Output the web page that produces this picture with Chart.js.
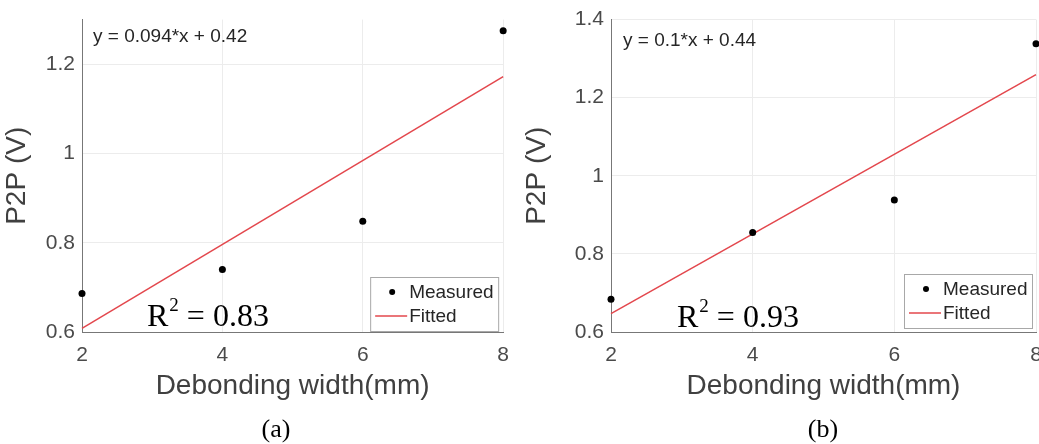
<!DOCTYPE html>
<html>
<head>
<meta charset="utf-8">
<script src="https://cdn.jsdelivr.net/npm/chart.js@4"></script>
<style>
  html, body { margin: 0; padding: 0; background: #fff; overflow: hidden; }
  body { width: 1039px; height: 444px; position: relative; }
  .panel { position: absolute; top: 0; height: 444px; }
  #panelA { left: 0; width: 520px; }
  #panelB { left: 520px; width: 540px; }
  .caption { position: absolute; top: 414px; font-family: "Liberation Serif", "Times New Roman", serif;
             font-size: 26px; line-height: 30px; color: #000; transform: translateX(-50%); }
</style>
</head>
<body>
<div class="panel" id="panelA"><canvas id="chartA" width="520" height="444"></canvas></div>
<div class="panel" id="panelB"><canvas id="chartB" width="540" height="444"></canvas></div>
<div class="caption" style="left:276px">(a)</div>
<div class="caption" style="left:823px">(b)</div>
<script>
// debonding widths (mm) and peak-to-peak voltages
const widths = [2, 4, 6, 8];
const measuredA = [0.686, 0.74, 0.848, 1.275];
const measuredB = [0.684, 0.855, 0.938, 1.338];

// linear fit, end points
const fitX = [2, 8];
const fittedA = [0.608, 1.172];
const fittedB = [0.647, 1.259];

const xTicks = [2, 4, 6, 8];
const yTicksA = [0.6, 0.8, 1, 1.2];
const yTicksB = [0.6, 0.8, 1, 1.2, 1.4];

const equationA = 'y = 0.094*x + 0.42';
const equationB = 'y = 0.1*x + 0.44';
const r2A = '0.83';
const r2B = '0.93';

const SANS = '"Liberation Sans", Arial, sans-serif';
const SERIF = '"Liberation Serif", "Times New Roman", serif';

// equation, R^2 and the boxed legend inside the axes
const annotate = {
  id: 'annotate',
  afterDraw(chart, args, o) {
    const { ctx, chartArea: a } = chart;
    ctx.save();
    ctx.textBaseline = 'alphabetic';
    ctx.textAlign = 'left';

    ctx.font = '19px ' + SANS;
    ctx.fillStyle = '#262626';
    ctx.fillText(o.equation, a.left + o.eqDx, a.top + o.eqDy);

    let x = a.left + o.r2Dx;
    const y = a.bottom - o.r2Up;
    ctx.fillStyle = '#000';
    ctx.font = '32px ' + SERIF;
    ctx.fillText('R', x, y);
    x += ctx.measureText('R').width + 1;
    ctx.font = '19px ' + SERIF;
    ctx.fillText('2', x, y - 15);
    x += ctx.measureText('2').width;
    ctx.font = '32px ' + SERIF;
    ctx.fillText(' = ' + o.r2, x, y);

    // legend box
    const bw = 128, bh = 54;
    const bx = a.right - o.lgRight - bw;
    const by = a.bottom - o.lgBottom - bh;
    ctx.fillStyle = '#fff';
    ctx.fillRect(bx, by, bw, bh);
    ctx.strokeStyle = '#a8a8a8';
    ctx.lineWidth = 1;
    ctx.strokeRect(bx + 0.5, by + 0.5, bw, bh);

    const [meas, fit] = chart.data.datasets;
    ctx.font = '19px ' + SANS;
    ctx.textBaseline = 'middle';
    ctx.fillStyle = meas.pointBackgroundColor;
    ctx.beginPath();
    ctx.arc(bx + 22, by + 15, 3, 0, Math.PI * 2);
    ctx.fill();
    ctx.fillStyle = '#262626';
    ctx.fillText(meas.label, bx + 39, by + 16);

    ctx.strokeStyle = fit.borderColor;
    ctx.lineWidth = fit.borderWidth;
    ctx.beginPath();
    ctx.moveTo(bx + 5, by + 39);
    ctx.lineTo(bx + 37, by + 39);
    ctx.stroke();
    ctx.fillText(fit.label, bx + 39, by + 40);
    ctx.restore();
  }
};

function makePanel(id, measured, fitted, yMax, yTicks, yWidth, padRight, note) {
  new Chart(document.getElementById(id), {
    type: 'scatter',
    data: {
      datasets: [
        {
          label: 'Measured',
          data: widths.map((w, i) => ({ x: w, y: measured[i] })),
          pointRadius: 3.5,
          pointBackgroundColor: '#000',
          pointBorderWidth: 0,
          showLine: false,
          clip: false
        },
        {
          label: 'Fitted',
          data: fitX.map((w, i) => ({ x: w, y: fitted[i] })),
          showLine: true,
          borderColor: '#e3474d',
          borderWidth: 1.5,
          pointRadius: 0,
          clip: false
        }
      ]
    },
    options: {
      responsive: false,
      animation: false,
      events: [],
      layout: { padding: { left: 0, right: padRight, top: 18.5, bottom: 41 } },
      plugins: {
        legend: { display: false },
        tooltip: { enabled: false },
        annotate: note
      },
      scales: {
        x: {
          type: 'linear',
          min: 2,
          max: 8,
          afterBuildTicks: s => { s.ticks = xTicks.map(v => ({ value: v })); },
          afterFit: s => { s.height = 71; },
          grid: { color: '#ececec', drawTicks: false },
          border: { display: true, color: '#777', width: 1 },
          ticks: { padding: 11, color: '#4a4a4a', font: { family: SANS, size: 21 } },
          title: { display: true, text: 'Debonding width(mm)', color: '#404040',
                   padding: 0, font: { family: SANS, size: 28 } }
        },
        y: {
          type: 'linear',
          min: 0.6,
          max: yMax,
          afterBuildTicks: s => { s.ticks = yTicks.map(v => ({ value: v })); },
          afterFit: s => { s.width = yWidth; },
          grid: { color: '#ececec', drawTicks: false },
          border: { display: true, color: '#777', width: 1 },
          ticks: { padding: 7, color: '#4a4a4a', font: { family: SANS, size: 21 },
                   callback: v => String(Number(v.toFixed(2))) },
          title: { display: true, text: 'P2P (V)', color: '#404040',
                   padding: 0, font: { family: SANS, size: 28 } }
        }
      }
    },
    plugins: [annotate]
  });
}

makePanel('chartA', measuredA, fittedA, 1.3, yTicksA, 82, 13,
  { equation: equationA, eqDx: 11, eqDy: 22.5, r2: r2A, r2Dx: 65, r2Up: 6, lgRight: 5, lgBottom: 1 });
makePanel('chartB', measuredB, fittedB, 1.4, yTicksB, 91, 24,
  { equation: equationB, eqDx: 12, eqDy: 26.5, r2: r2B, r2Dx: 66, r2Up: 5, lgRight: 4, lgBottom: 4 });
</script>
</body>
</html>
